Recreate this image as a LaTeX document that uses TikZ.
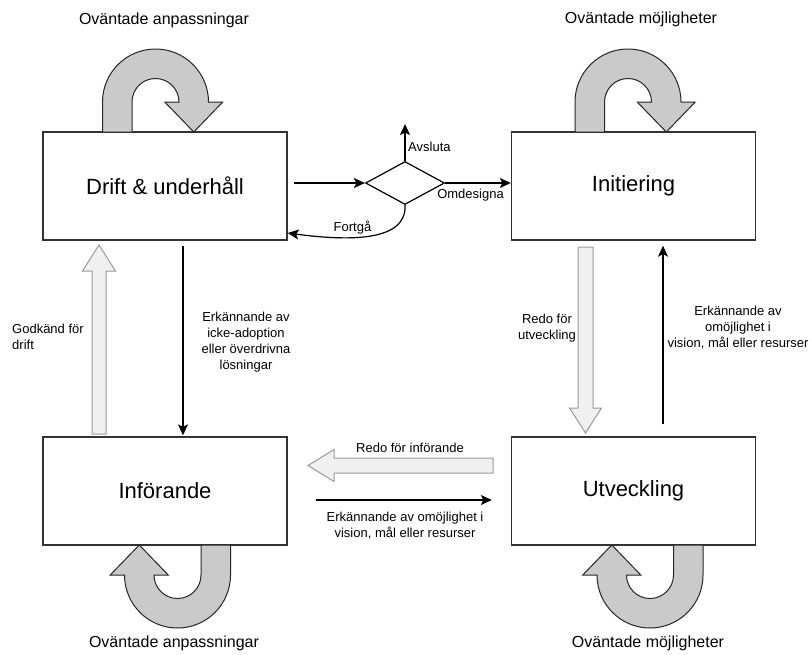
\documentclass[tikz,border=0pt]{standalone}
\usepackage{fontspec}
\setmainfont{Liberation Sans}
\usetikzlibrary{arrows.meta,shapes.geometric,calc}

\definecolor{boxline}{HTML}{333333}
\definecolor{turnfill}{HTML}{CACACA}
\definecolor{blockfill}{HTML}{F0F0F0}
\definecolor{blockline}{HTML}{9A9A9A}

\tikzset{
  phase/.style={draw=boxline, line width=1.4pt, fill=white, minimum width=244pt,
    minimum height=108pt, inner sep=0pt, font=\fontsize{22}{26}\selectfont},
  decision/.style={draw=black, diamond, minimum width=79pt, minimum height=43pt,
    aspect=1.84, inner sep=0pt, line width=1.2pt},
  conn/.style={draw=black, line width=1.2pt,
    -{Stealth[length=11pt, width=10pt, inset=2.5pt]}},
  edgelabel/.style={font=\fontsize{13}{16}\selectfont, align=center, inner sep=0pt},
  cornerlabel/.style={font=\fontsize{16}{19}\selectfont, inner sep=0pt},
  blockarrow/.style={draw=blockline, fill=blockfill, line width=1pt, line join=miter},
  turn/.style={draw=black!85, fill=turnfill, line width=1pt, line join=miter},
  uturn/.pic={
    \path[turn] (-53pt,-30pt) -- (-53pt,0pt)
      arc[start angle=180, end angle=0, radius=53pt]
      -- (67.25pt,0pt) -- (38.25pt,-30pt) -- (9.25pt,0pt) -- (23.5pt,0pt)
      arc[start angle=0, end angle=180, radius=23.5pt]
      -- (-23.5pt,-30pt) -- cycle;
  }
}

\begin{document}
\begin{tikzpicture}[x=1pt, y=1pt]
  % canvas
  \fill[white] (0,0) rectangle (811,-654);
  \useasboundingbox (0,0) rectangle (811,-654);

  % the four phases
  \node[phase] (drift) at (165,-186)   {Drift \& underhåll};
  \node[phase] (init)  at (633.5,-186) {Initiering};
  \node[phase] (inf)   at (165,-491)   {Införande};
  \node[phase] (utv)   at (633.5,-491) {Utveckling};

  % decision after operation
  \node[decision] (dec) at (405,-183) {};
  \coordinate (quit) at (405,-124);

  % self loops
  \pic at (155.5,-102) {uturn};
  \pic at (628,-102) {uturn};
  \pic[rotate=180] at (177.5,-575) {uturn};
  \pic[rotate=180] at (650,-575) {uturn};

  % loop captions
  \node[cornerlabel] (capTL) at (164,-20)  {Oväntade anpassningar};
  \node[cornerlabel] (capTR) at (641,-19)  {Oväntade möjligheter};
  \node[cornerlabel] (capBL) at (174,-643) {Oväntade anpassningar};
  \node[cornerlabel] (capBR) at (648,-643) {Oväntade möjligheter};

  % broad transitions
  \path[blockarrow] (92,-434) -- (92,-271) -- (82.5,-271) -- (99,-245)
    -- (115.5,-271) -- (106,-271) -- (106,-434) -- cycle;
  \path[blockarrow] (578,-247) -- (578,-408) -- (569.5,-408) -- (585.5,-433)
    -- (601.5,-408) -- (593,-408) -- (593,-247) -- cycle;
  \path[blockarrow] (493,-458) -- (334,-458) -- (334,-449.5) -- (308,-465.5)
    -- (334,-481.5) -- (334,-473) -- (493,-473) -- cycle;

  % thin transitions
  \draw[conn, shorten <=6pt] (drift.east |- dec.west) -- (dec.west);
  \draw[conn] (dec.east) -- (init.west |- dec.east);
  \draw[conn] (dec.north) -- (quit);
  \draw[conn] (dec.south) .. controls +(2,-37) and +(60,-8) .. ($(drift.east)+(0,-47)$);
  \draw[conn, shorten <=5pt, shorten >=1pt] ($(drift.south)+(18,0)$) -- ($(inf.north)+(18,0)$);
  \draw[conn, shorten <=12pt, shorten >=5pt] ($(utv.north)+(29.5,0)$) -- ($(init.south)+(29.5,0)$);
  \draw[conn, shorten <=28pt, shorten >=19pt] ($(inf.east)+(0,-9)$) -- ($(utv.west)+(0,-9)$);

  % transition labels
  \node[edgelabel, anchor=west] (lquit) at (408,-147) {Avsluta};
  \node[edgelabel] (lredes) at (470.5,-195) {Omdesigna};
  \node[edgelabel] (lcont) at (352.5,-228) {Fortgå};
  \node[edgelabel, align=left, anchor=west] (lappr) at (12,-337) {Godkänd för\\drift};
  \node[edgelabel] (lrej) at (246,-342) {Erkännande av\\icke-adoption\\eller överdrivna\\lösningar};
  \node[edgelabel] (ldev) at (547,-328) {Redo för\\utveckling};
  \node[edgelabel] (limp) at (738,-328) {Erkännande av\\omöjlighet i\\vision, mål eller resurser};
  \node[edgelabel] (lready) at (410,-448) {Redo för införande};
  \node[edgelabel] (limp2) at (405,-526) {Erkännande av omöjlighet i\\vision, mål eller resurser};
\end{tikzpicture}
\end{document}
